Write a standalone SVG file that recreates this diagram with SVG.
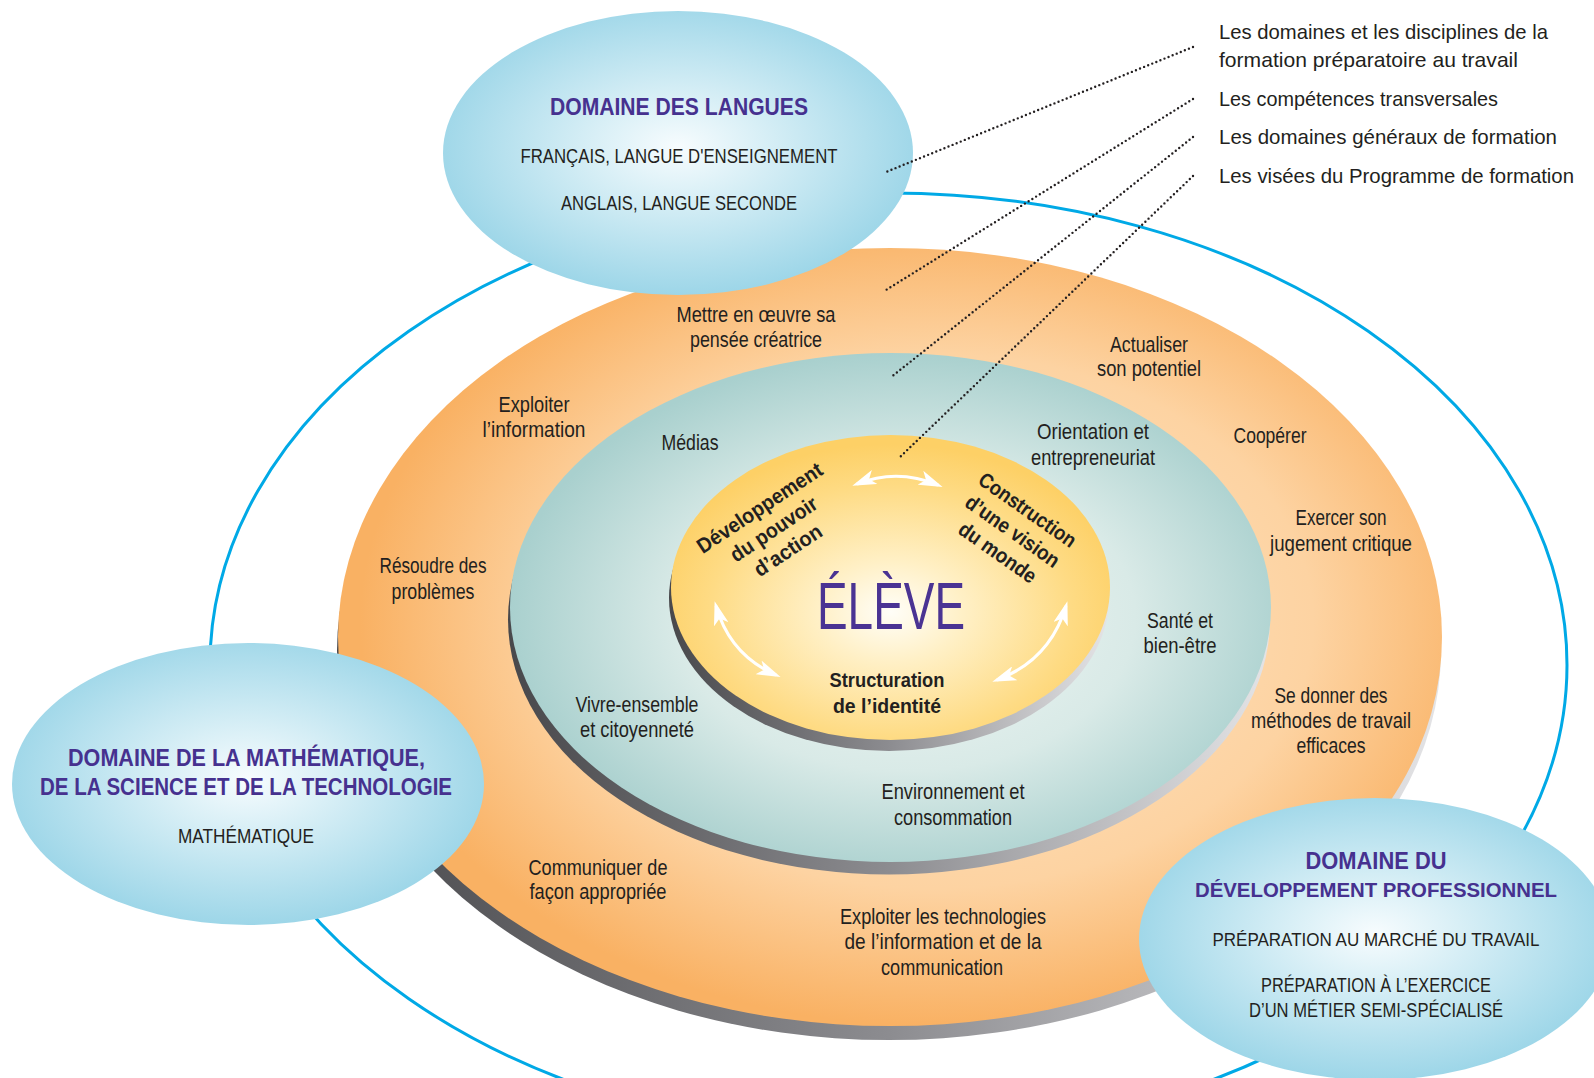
<svg xmlns="http://www.w3.org/2000/svg" width="1594" height="1078" viewBox="0 0 1594 1078">
<defs>
<radialGradient id="gBlue" cx="50%" cy="48%" r="52%">
<stop offset="0" stop-color="#f7fcfe"/>
<stop offset="0.35" stop-color="#d8eff6"/>
<stop offset="1" stop-color="#9dd6e8"/>
</radialGradient>
<radialGradient id="gOrange" cx="54%" cy="48%" r="52%">
<stop offset="0" stop-color="#fde6c8"/>
<stop offset="0.66" stop-color="#fdd3a2"/>
<stop offset="1" stop-color="#f9b163"/>
</radialGradient>
<radialGradient id="gTeal" cx="52%" cy="52%" r="52%">
<stop offset="0" stop-color="#f2f7f5"/>
<stop offset="0.58" stop-color="#d9eae7"/>
<stop offset="1" stop-color="#a9d0ce"/>
</radialGradient>
<radialGradient id="gYellow" cx="50%" cy="58%" r="55%">
<stop offset="0" stop-color="#fffef8"/>
<stop offset="0.3" stop-color="#fff0c6"/>
<stop offset="0.75" stop-color="#fedb84"/>
<stop offset="1" stop-color="#fdd066"/>
</radialGradient>
<linearGradient id="gShadow" x1="0" y1="0" x2="1" y2="0">
<stop offset="0" stop-color="#48484b"/>
<stop offset="0.5" stop-color="#8c8c90"/>
<stop offset="1" stop-color="#e4e4e6"/>
</linearGradient>
<marker id="wArrow" viewBox="0 0 24 15" refX="19" refY="7.5" markerWidth="24" markerHeight="15" markerUnits="userSpaceOnUse" orient="auto-start-reverse">
<path d="M0,0 L24,7.5 L0,15 L6,7.5 Z" fill="#ffffff"/>
</marker>
<style>
.t{font-family:"Liberation Sans Narrow","Liberation Sans",Arial,sans-serif;font-size:22px;fill:#231f20;text-anchor:middle}
.lg{font-family:"Liberation Sans Narrow","Liberation Sans",Arial,sans-serif;font-size:21px;fill:#231f20}
.ttl{font-family:"Liberation Sans","Liberation Sans Narrow",Arial,sans-serif;font-weight:bold;font-size:23px;fill:#46318f;text-anchor:middle}
.ttl2{font-family:"Liberation Sans","Liberation Sans Narrow",Arial,sans-serif;font-weight:bold;font-size:21px;fill:#46318f;text-anchor:middle}
.sub{font-family:"Liberation Sans Narrow","Liberation Sans",Arial,sans-serif;font-size:20.5px;fill:#231f20;text-anchor:middle}
.sub2{font-family:"Liberation Sans Narrow","Liberation Sans",Arial,sans-serif;font-size:19px;fill:#231f20;text-anchor:middle}
.vb{font-family:"Liberation Sans","Liberation Sans Narrow",Arial,sans-serif;font-weight:bold;font-size:21px;fill:#231f20;text-anchor:middle}
.dot{fill:none;stroke:#231f20;stroke-width:2.4;stroke-linecap:round;stroke-dasharray:0 4.4}
.warr{fill:none;stroke:#ffffff;stroke-width:3;marker-start:url(#wArrow);marker-end:url(#wArrow)}
.dom{fill:url(#gBlue)}
.shadow{fill:url(#gShadow)}
</style>
</defs>

<rect width="1594" height="1078" fill="#ffffff"/>

<g id="cercle-exterieur">
<ellipse cx="888.5" cy="665" rx="678.5" ry="472" fill="none" stroke="#00a9e6" stroke-width="3"/>
</g>

<g id="competences-transversales">
<ellipse class="shadow" cx="889" cy="651" rx="552" ry="389"/>
<ellipse cx="890" cy="637" rx="552" ry="389" fill="url(#gOrange)"/>
<text class="t" x="756" y="322" textLength="159" lengthAdjust="spacingAndGlyphs">Mettre en œuvre sa</text>
<text class="t" x="756" y="347" textLength="132" lengthAdjust="spacingAndGlyphs">pensée créatrice</text>
<text class="t" x="534" y="412" textLength="71" lengthAdjust="spacingAndGlyphs">Exploiter</text>
<text class="t" x="534" y="437" textLength="103" lengthAdjust="spacingAndGlyphs">l’information</text>
<text class="t" x="1149" y="352" textLength="78" lengthAdjust="spacingAndGlyphs">Actualiser</text>
<text class="t" x="1149" y="376" textLength="104" lengthAdjust="spacingAndGlyphs">son potentiel</text>
<text class="t" x="1270" y="443" textLength="73" lengthAdjust="spacingAndGlyphs">Coopérer</text>
<text class="t" x="1341" y="525" textLength="91" lengthAdjust="spacingAndGlyphs">Exercer son</text>
<text class="t" x="1341" y="551" textLength="142" lengthAdjust="spacingAndGlyphs">jugement critique</text>
<text class="t" x="433" y="573" textLength="107" lengthAdjust="spacingAndGlyphs">Résoudre des</text>
<text class="t" x="433" y="599" textLength="83" lengthAdjust="spacingAndGlyphs">problèmes</text>
<text class="t" x="1331" y="703" textLength="113" lengthAdjust="spacingAndGlyphs">Se donner des</text>
<text class="t" x="1331" y="728" textLength="160" lengthAdjust="spacingAndGlyphs">méthodes de travail</text>
<text class="t" x="1331" y="753" textLength="69" lengthAdjust="spacingAndGlyphs">efficaces</text>
<text class="t" x="598" y="875" textLength="139" lengthAdjust="spacingAndGlyphs">Communiquer de</text>
<text class="t" x="598" y="899" textLength="137" lengthAdjust="spacingAndGlyphs">façon appropriée</text>
<text class="t" x="943" y="924" textLength="206" lengthAdjust="spacingAndGlyphs">Exploiter les technologies</text>
<text class="t" x="943" y="949" textLength="197" lengthAdjust="spacingAndGlyphs">de l’information et de la</text>
<text class="t" x="942" y="975" textLength="122" lengthAdjust="spacingAndGlyphs">communication</text>
</g>

<g id="domaines-generaux">
<ellipse class="shadow" cx="889" cy="619.5" rx="381" ry="255"/>
<ellipse cx="890.5" cy="607.5" rx="380.5" ry="254.5" fill="url(#gTeal)"/>
<text class="t" x="690" y="450" textLength="57" lengthAdjust="spacingAndGlyphs">Médias</text>
<text class="t" x="1093" y="439" textLength="112" lengthAdjust="spacingAndGlyphs">Orientation et</text>
<text class="t" x="1093" y="465" textLength="124" lengthAdjust="spacingAndGlyphs">entrepreneuriat</text>
<text class="t" x="1180" y="628" textLength="66" lengthAdjust="spacingAndGlyphs">Santé et</text>
<text class="t" x="1180" y="653" textLength="73" lengthAdjust="spacingAndGlyphs">bien-être</text>
<text class="t" x="637" y="712" textLength="123" lengthAdjust="spacingAndGlyphs">Vivre-ensemble</text>
<text class="t" x="637" y="737" textLength="114" lengthAdjust="spacingAndGlyphs">et citoyenneté</text>
<text class="t" x="953" y="799" textLength="143" lengthAdjust="spacingAndGlyphs">Environnement et</text>
<text class="t" x="953" y="825" textLength="118" lengthAdjust="spacingAndGlyphs">consommation</text>
</g>

<g id="eleve">
<ellipse class="shadow" cx="889" cy="598" rx="220" ry="153"/>
<ellipse cx="890.5" cy="587.5" rx="219.5" ry="152.5" fill="url(#gYellow)"/>
<text x="891" y="629" textLength="148" lengthAdjust="spacingAndGlyphs" style="font-family:'Liberation Sans Narrow','Liberation Sans',Arial,sans-serif;font-size:66px;fill:#4a3393;text-anchor:middle">ÉLÈVE</text>
<text class="vb" x="887" y="687" textLength="115" lengthAdjust="spacingAndGlyphs">Structuration</text>
<text class="vb" x="887" y="713" textLength="108" lengthAdjust="spacingAndGlyphs">de l’identité</text>
<g transform="translate(773.8,529.2) rotate(-33.6)">
<text class="vb" x="0" y="-18.5" textLength="146" lengthAdjust="spacingAndGlyphs">Développement</text>
<text class="vb" x="0" y="7" textLength="100" lengthAdjust="spacingAndGlyphs">du pouvoir</text>
<text class="vb" x="0" y="32.5" textLength="77" lengthAdjust="spacingAndGlyphs">d’action</text>
</g>
<g transform="translate(1012.5,531.3) rotate(35)">
<text class="vb" x="0" y="-19" textLength="114" lengthAdjust="spacingAndGlyphs">Construction</text>
<text class="vb" x="0" y="7" textLength="110" lengthAdjust="spacingAndGlyphs">d’une vision</text>
<text class="vb" x="0" y="33" textLength="90" lengthAdjust="spacingAndGlyphs">du monde</text>
</g>
</g>

<g id="domaine-langues">
<ellipse class="dom" cx="678" cy="153" rx="235" ry="142"/>
<text class="ttl" x="679" y="115" textLength="258" lengthAdjust="spacingAndGlyphs">DOMAINE DES LANGUES</text>
<text class="sub" x="679" y="163" textLength="317" lengthAdjust="spacingAndGlyphs">FRANÇAIS, LANGUE D'ENSEIGNEMENT</text>
<text class="sub" x="679" y="210" textLength="236" lengthAdjust="spacingAndGlyphs">ANGLAIS, LANGUE SECONDE</text>
</g>

<g id="domaine-mathematique">
<ellipse class="dom" cx="248" cy="784" rx="236" ry="141"/>
<text class="ttl" x="246.5" y="766" textLength="357" lengthAdjust="spacingAndGlyphs">DOMAINE DE LA MATHÉMATIQUE,</text>
<text class="ttl" x="246" y="795" textLength="412" lengthAdjust="spacingAndGlyphs">DE LA SCIENCE ET DE LA TECHNOLOGIE</text>
<text class="sub" x="246" y="843" textLength="136" lengthAdjust="spacingAndGlyphs">MATHÉMATIQUE</text>
</g>

<g id="domaine-developpement-professionnel">
<ellipse class="dom" cx="1375" cy="939" rx="236" ry="141"/>
<text class="ttl" x="1376" y="869" textLength="141" lengthAdjust="spacingAndGlyphs">DOMAINE DU</text>
<text class="ttl2" x="1376" y="897" textLength="362" lengthAdjust="spacingAndGlyphs">DÉVELOPPEMENT PROFESSIONNEL</text>
<text class="sub2" x="1376" y="946" textLength="327" lengthAdjust="spacingAndGlyphs">PRÉPARATION AU MARCHÉ DU TRAVAIL</text>
<text class="sub" x="1376" y="992" textLength="230" lengthAdjust="spacingAndGlyphs">PRÉPARATION À L’EXERCICE</text>
<text class="sub" x="1376" y="1017" textLength="254" lengthAdjust="spacingAndGlyphs">D’UN MÉTIER SEMI-SPÉCIALISÉ</text>
</g>

<g id="legende">
<text class="lg" x="1219" y="39" textLength="329" lengthAdjust="spacingAndGlyphs">Les domaines et les disciplines de la</text>
<text class="lg" x="1219" y="67" textLength="299" lengthAdjust="spacingAndGlyphs">formation préparatoire au travail</text>
<text class="lg" x="1219" y="106" textLength="279" lengthAdjust="spacingAndGlyphs">Les compétences transversales</text>
<text class="lg" x="1219" y="144" textLength="338" lengthAdjust="spacingAndGlyphs">Les domaines généraux de formation</text>
<text class="lg" x="1219" y="183" textLength="355" lengthAdjust="spacingAndGlyphs">Les visées du Programme de formation</text>
</g>

<g id="connecteurs">
<line class="dot" x1="1193" y1="47" x2="886" y2="172"/>
<line class="dot" x1="1193" y1="99" x2="886" y2="290"/>
<line class="dot" x1="1193" y1="137" x2="890" y2="378"/>
<line class="dot" x1="1193" y1="176" x2="900" y2="457"/>
<path class="warr" d="M857,484 Q897,468 938,485"/>
<path class="warr" d="M716,606 Q730,655 776,675"/>
<path class="warr" d="M997,680 Q1050,660 1066,606"/>
</g>
</svg>
